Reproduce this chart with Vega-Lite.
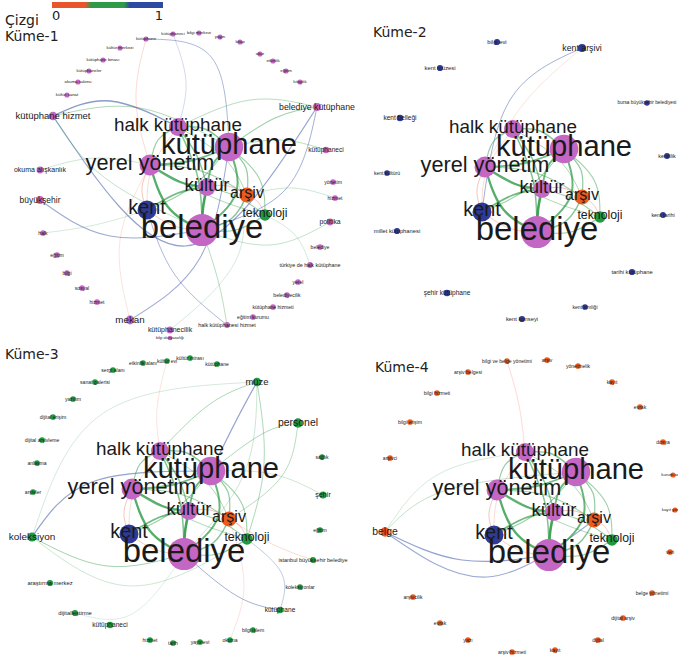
{
"$schema":"https://vega.github.io/schema/vega-lite/v6.json",
"padding":0,"spacing":0,"columns":2,"bounds":"flush",
"resolve":{"scale":{"size":"independent"}},
"config":{"view":{"stroke":null},
"legend":{"orient":"none","legendX":5,"legendY":2,"direction":"horizontal","gradientLength":111,"gradientThickness":6,"titleOrient":"left","titleBaseline":"line-top","titleLineHeight":32,"titleFont":"DejaVu Sans","titleFontSize":14,"titleFontWeight":"normal","titleColor":"#222","labelFont":"DejaVu Sans","labelFontSize":13,"labelColor":"#222","titlePadding":13,"gradientStrokeWidth":0,"labelOffset":6}},
"datasets":{
"coreN":[
{"label":"belediye","x":202,"y":230,"n":34,"c":"1"},
{"label":"kütüphane","x":229,"y":147,"n":30,"c":"1"},
{"label":"halk kütüphane","x":178,"y":127,"n":19,"c":"1"},
{"label":"yerel yönetim","x":150,"y":165,"n":22,"c":"1"},
{"label":"kültür","x":207,"y":187,"n":18.5,"c":"1"},
{"label":"arşiv","x":247,"y":195,"n":16,"c":"4"},
{"label":"kent","x":147,"y":210,"n":20,"c":"2"},
{"label":"teknoloji","x":265,"y":215,"n":12,"c":"3"}],
"coreE":[
{"id":"c1","i":0,"x":202,"y":230,"w":0.5,"s":3},{"id":"c1","i":1,"x":203,"y":208,"w":0.5,"s":3},{"id":"c1","i":2,"x":207,"y":187,"w":0.5,"s":3},
{"id":"c2","i":0,"x":202,"y":230,"w":0.5,"s":2.6},{"id":"c2","i":1,"x":168,"y":207,"w":0.5,"s":2.6},{"id":"c2","i":2,"x":150,"y":165,"w":0.5,"s":2.6},
{"id":"c3","i":0,"x":202,"y":230,"w":0.5,"s":2.2},{"id":"c3","i":1,"x":236,"y":193,"w":0.5,"s":2.2},{"id":"c3","i":2,"x":229,"y":147,"w":0.5,"s":2.2},
{"id":"c4","i":0,"x":150,"y":165,"w":0.5,"s":2},{"id":"c4","i":1,"x":190,"y":161,"w":0.5,"s":2},{"id":"c4","i":2,"x":229,"y":147,"w":0.5,"s":2},
{"id":"c5","i":0,"x":150,"y":165,"w":0.5,"s":2.4},{"id":"c5","i":1,"x":180,"y":182,"w":0.5,"s":2.4},{"id":"c5","i":2,"x":207,"y":187,"w":0.5,"s":2.4},
{"id":"c6","i":0,"x":229,"y":147,"w":0.5,"s":2},{"id":"c6","i":1,"x":213,"y":164,"w":0.5,"s":2},{"id":"c6","i":2,"x":207,"y":187,"w":0.5,"s":2},
{"id":"c7","i":0,"x":147,"y":210,"w":0.5,"s":2},{"id":"c7","i":1,"x":178,"y":193,"w":0.5,"s":2},{"id":"c7","i":2,"x":207,"y":187,"w":0.5,"s":2},
{"id":"c8","i":0,"x":178,"y":127,"w":0.5,"s":1.6},{"id":"c8","i":1,"x":198,"y":178,"w":0.5,"s":1.6},{"id":"c8","i":2,"x":202,"y":230,"w":0.5,"s":1.6},
{"id":"c9","i":0,"x":178,"y":127,"w":0.5,"s":1.5},{"id":"c9","i":1,"x":205,"y":129,"w":0.5,"s":1.5},{"id":"c9","i":2,"x":229,"y":147,"w":0.5,"s":1.5},
{"id":"c10","i":0,"x":178,"y":127,"w":0.5,"s":1.2},{"id":"c10","i":1,"x":158,"y":140,"w":0.5,"s":1.2},{"id":"c10","i":2,"x":150,"y":165,"w":0.5,"s":1.2},
{"id":"c11","i":0,"x":247,"y":195,"w":0.5,"s":1.5},{"id":"c11","i":1,"x":231,"y":219,"w":0.5,"s":1.5},{"id":"c11","i":2,"x":202,"y":230,"w":0.5,"s":1.5},
{"id":"c12","i":0,"x":265,"y":215,"w":0.5,"s":1.2},{"id":"c12","i":1,"x":236,"y":230,"w":0.5,"s":1.2},{"id":"c12","i":2,"x":202,"y":230,"w":0.5,"s":1.2},
{"id":"c13","i":0,"x":247,"y":195,"w":0.5,"s":1.2},{"id":"c13","i":1,"x":246,"y":168,"w":0.5,"s":1.2},{"id":"c13","i":2,"x":229,"y":147,"w":0.5,"s":1.2},
{"id":"c14","i":0,"x":147,"y":210,"w":0.2,"s":0.7},{"id":"c14","i":1,"x":142,"y":188,"w":0.2,"s":0.7},{"id":"c14","i":2,"x":150,"y":165,"w":0.2,"s":0.7},
{"id":"c15","i":0,"x":147,"y":210,"w":0.2,"s":0.6},{"id":"c15","i":1,"x":174,"y":226,"w":0.2,"s":0.6},{"id":"c15","i":2,"x":202,"y":230,"w":0.2,"s":0.6},
{"id":"c16","i":0,"x":265,"y":215,"w":0.5,"s":1},{"id":"c16","i":1,"x":259,"y":178,"w":0.5,"s":1},{"id":"c16","i":2,"x":229,"y":147,"w":0.5,"s":1},
{"id":"c17","i":0,"x":207,"y":187,"w":0.2,"s":0.8},{"id":"c17","i":1,"x":228,"y":186,"w":0.2,"s":0.8},{"id":"c17","i":2,"x":247,"y":195,"w":0.2,"s":0.8},
{"id":"c18","i":0,"x":150,"y":165,"w":0.5,"s":1},{"id":"c18","i":1,"x":201,"y":171,"w":0.5,"s":1},{"id":"c18","i":2,"x":247,"y":195,"w":0.5,"s":1},
{"id":"c19","i":0,"x":178,"y":127,"w":0.5,"s":1.5},{"id":"c19","i":1,"x":197,"y":156,"w":0.5,"s":1.5},{"id":"c19","i":2,"x":207,"y":187,"w":0.5,"s":1.5},
{"id":"c20","i":0,"x":147,"y":210,"w":0.5,"s":1},{"id":"c20","i":1,"x":193,"y":186,"w":0.5,"s":1},{"id":"c20","i":2,"x":229,"y":147,"w":0.5,"s":1},
{"id":"c21","i":0,"x":265,"y":215,"w":0.5,"s":1},{"id":"c21","i":1,"x":238,"y":197,"w":0.5,"s":1},{"id":"c21","i":2,"x":207,"y":187,"w":0.5,"s":1},
{"id":"c22","i":0,"x":150,"y":165,"w":0.5,"s":0.8},{"id":"c22","i":1,"x":212,"y":197,"w":0.5,"s":0.8},{"id":"c22","i":2,"x":265,"y":215,"w":0.5,"s":0.8},
{"id":"c23","i":0,"x":178,"y":127,"w":0.5,"s":0.8},{"id":"c23","i":1,"x":224,"y":158,"w":0.5,"s":0.8},{"id":"c23","i":2,"x":247,"y":195,"w":0.5,"s":0.8},
{"id":"c24","i":0,"x":147,"y":210,"w":0.2,"s":0.4},{"id":"c24","i":1,"x":152,"y":168,"w":0.2,"s":0.4},{"id":"c24","i":2,"x":178,"y":127,"w":0.2,"s":0.4},
{"id":"c25","i":0,"x":247,"y":195,"w":0.2,"s":0.6},{"id":"c25","i":1,"x":258,"y":202,"w":0.2,"s":0.6},{"id":"c25","i":2,"x":265,"y":215,"w":0.2,"s":0.6}],
"n1":[
{"label":"kütüphane","x":146,"y":39,"n":5.5,"c":"1"},
{"label":"kütüphaneci","x":173,"y":34,"n":5.5,"c":"1"},
{"label":"bilgi merkezi","x":199,"y":33,"n":5.5,"c":"1"},
{"label":"yayın","x":220,"y":37,"n":5.5,"c":"1"},
{"label":"kitap","x":240,"y":42,"n":5.5,"c":"1"},
{"label":"okur","x":260,"y":54,"n":5.5,"c":"1"},
{"label":"etkinlik","x":273,"y":61,"n":5.5,"c":"1"},
{"label":"eğitim","x":286,"y":71,"n":5.5,"c":"1"},
{"label":"kitaplık","x":300,"y":82,"n":5.5,"c":"1"},
{"label":"kültür merkezi","x":120,"y":48,"n":5.5,"c":"1"},
{"label":"kütüphane binası","x":103,"y":60,"n":5.5,"c":"1"},
{"label":"kütüphaneler","x":89,"y":71,"n":5.5,"c":"1"},
{"label":"okuma salonu","x":78,"y":82,"n":5.5,"c":"1"},
{"label":"kültür sanat","x":67,"y":95,"n":5.5,"c":"1"},
{"label":"kütüphane hizmet","x":53,"y":116,"n":9,"c":"1"},
{"label":"belediye kütüphane","x":317,"y":107,"n":8.5,"c":"1"},
{"label":"kütüphaneci","x":326,"y":150,"n":7,"c":"1"},
{"label":"okuma alışkanlık","x":40,"y":170,"n":7.3,"c":"1"},
{"label":"büyükşehir","x":40,"y":200,"n":8.3,"c":"1"},
{"label":"halk","x":43,"y":233,"n":6,"c":"1"},
{"label":"eğitim","x":57,"y":255,"n":6,"c":"1"},
{"label":"bilgi","x":67,"y":273,"n":6,"c":"1"},
{"label":"sosyal","x":82,"y":288,"n":6,"c":"1"},
{"label":"hizmet","x":97,"y":302,"n":6,"c":"1"},
{"label":"mekan","x":130,"y":320,"n":9.3,"c":"1"},
{"label":"kütüphanecilik","x":170,"y":330,"n":7.3,"c":"1"},
{"label":"halk kütüphanesi hizmet","x":227,"y":325,"n":6.2,"c":"1"},
{"label":"bilgi okuryazarlığı","x":170,"y":338,"n":5,"c":"1"},
{"label":"yönetim","x":333,"y":182,"n":6,"c":"1"},
{"label":"hizmet","x":335,"y":198,"n":6,"c":"1"},
{"label":"politika","x":330,"y":222,"n":7.2,"c":"1"},
{"label":"belediye","x":320,"y":247,"n":6,"c":"1"},
{"label":"türkiye de halk kütüphane","x":310,"y":265,"n":6.2,"c":"1"},
{"label":"yerel","x":298,"y":282,"n":6,"c":"1"},
{"label":"belediyecilik","x":287,"y":295,"n":6,"c":"1"},
{"label":"kütüphane hizmeti","x":273,"y":307,"n":6,"c":"1"},
{"label":"eğitim kurumu","x":253,"y":317,"n":6,"c":"1"}],
"e1":[
{"id":"a","i":0,"x":53,"y":116,"w":0.85,"s":1.4},{"id":"a","i":1,"x":110,"y":101,"w":0.85,"s":1.4},{"id":"a","i":2,"x":178,"y":127,"w":0.85,"s":1.4},
{"id":"b","i":0,"x":53,"y":116,"w":0.85,"s":1.2},{"id":"b","i":1,"x":185,"y":246,"w":0.85,"s":1.2},{"id":"b","i":2,"x":317,"y":107,"w":0.85,"s":1.2},
{"id":"c","i":0,"x":40,"y":200,"w":0.85,"s":1},{"id":"c","i":1,"x":110,"y":236,"w":0.85,"s":1},{"id":"c","i":2,"x":202,"y":230,"w":0.85,"s":1},
{"id":"d","i":0,"x":229,"y":147,"w":0.85,"s":1},{"id":"d","i":1,"x":200,"y":258,"w":0.85,"s":1},{"id":"d","i":2,"x":130,"y":320,"w":0.85,"s":1},
{"id":"e","i":0,"x":146,"y":39,"w":0.85,"s":0.8},{"id":"e","i":1,"x":212,"y":58,"w":0.85,"s":0.8},{"id":"e","i":2,"x":229,"y":147,"w":0.85,"s":0.8},
{"id":"f","i":0,"x":173,"y":34,"w":0.85,"s":0.4},{"id":"f","i":1,"x":186,"y":82,"w":0.85,"s":0.4},{"id":"f","i":2,"x":178,"y":127,"w":0.85,"s":0.4},
{"id":"g","i":0,"x":146,"y":39,"w":0.2,"s":0.4},{"id":"g","i":1,"x":136,"y":100,"w":0.2,"s":0.4},{"id":"g","i":2,"x":150,"y":165,"w":0.2,"s":0.4},
{"id":"h","i":0,"x":53,"y":116,"w":0.5,"s":0.8},{"id":"h","i":1,"x":140,"y":108,"w":0.5,"s":0.8},{"id":"h","i":2,"x":229,"y":147,"w":0.5,"s":0.8},
{"id":"i","i":0,"x":53,"y":116,"w":0.5,"s":0.6},{"id":"i","i":1,"x":105,"y":178,"w":0.5,"s":0.6},{"id":"i","i":2,"x":202,"y":230,"w":0.5,"s":0.6},
{"id":"j","i":0,"x":40,"y":170,"w":0.5,"s":0.5},{"id":"j","i":1,"x":95,"y":158,"w":0.5,"s":0.5},{"id":"j","i":2,"x":150,"y":165,"w":0.5,"s":0.5},
{"id":"k","i":0,"x":317,"y":107,"w":0.5,"s":1},{"id":"k","i":1,"x":275,"y":118,"w":0.5,"s":1},{"id":"k","i":2,"x":229,"y":147,"w":0.5,"s":1},
{"id":"l","i":0,"x":317,"y":107,"w":0.5,"s":0.7},{"id":"l","i":1,"x":250,"y":100,"w":0.5,"s":0.7},{"id":"l","i":2,"x":178,"y":127,"w":0.5,"s":0.7},
{"id":"m","i":0,"x":317,"y":107,"w":0.85,"s":0.9},{"id":"m","i":1,"x":285,"y":190,"w":0.85,"s":0.9},{"id":"m","i":2,"x":202,"y":230,"w":0.85,"s":0.9},
{"id":"n","i":0,"x":326,"y":150,"w":0.5,"s":0.7},{"id":"n","i":1,"x":280,"y":140,"w":0.5,"s":0.7},{"id":"n","i":2,"x":229,"y":147,"w":0.5,"s":0.7},
{"id":"o","i":0,"x":330,"y":222,"w":0.5,"s":0.6},{"id":"o","i":1,"x":270,"y":245,"w":0.5,"s":0.6},{"id":"o","i":2,"x":202,"y":230,"w":0.5,"s":0.6},
{"id":"p","i":0,"x":335,"y":198,"w":0.5,"s":0.5},{"id":"p","i":1,"x":292,"y":188,"w":0.5,"s":0.5},{"id":"p","i":2,"x":247,"y":195,"w":0.5,"s":0.5},
{"id":"q","i":0,"x":227,"y":325,"w":0.85,"s":0.8},{"id":"q","i":1,"x":175,"y":275,"w":0.85,"s":0.8},{"id":"q","i":2,"x":147,"y":210,"w":0.85,"s":0.8},
{"id":"r","i":0,"x":227,"y":325,"w":0.5,"s":0.7},{"id":"r","i":1,"x":218,"y":280,"w":0.5,"s":0.7},{"id":"r","i":2,"x":202,"y":230,"w":0.5,"s":0.7},
{"id":"s","i":0,"x":170,"y":330,"w":0.5,"s":0.4},{"id":"s","i":1,"x":240,"y":250,"w":0.5,"s":0.4},{"id":"s","i":2,"x":229,"y":147,"w":0.5,"s":0.4},
{"id":"t","i":0,"x":130,"y":320,"w":0.2,"s":0.3},{"id":"t","i":1,"x":120,"y":240,"w":0.2,"s":0.3},{"id":"t","i":2,"x":150,"y":165,"w":0.2,"s":0.3},
{"id":"u","i":0,"x":43,"y":233,"w":0.5,"s":0.4},{"id":"u","i":1,"x":95,"y":225,"w":0.5,"s":0.4},{"id":"u","i":2,"x":147,"y":210,"w":0.5,"s":0.4},
{"id":"v","i":0,"x":310,"y":265,"w":0.5,"s":0.4},{"id":"v","i":1,"x":295,"y":235,"w":0.5,"s":0.4},{"id":"v","i":2,"x":265,"y":215,"w":0.5,"s":0.4}],
"n2":[
{"label":"bilgi evi","x":162,"y":40,"n":6.5,"c":"2"},
{"label":"kent arşivi","x":247,"y":46,"n":8.5,"c":"2"},
{"label":"kent müzesi","x":105,"y":66,"n":6.5,"c":"2"},
{"label":"bursa büyükşehir belediyesi","x":312,"y":101,"n":5.8,"c":"2"},
{"label":"kent belleği","x":65,"y":116,"n":7,"c":"2"},
{"label":"kentlilik","x":332,"y":154,"n":6.2,"c":"2"},
{"label":"kent kültürü","x":52,"y":171,"n":6,"c":"2"},
{"label":"kent tarihi","x":328,"y":213,"n":6.2,"c":"2"},
{"label":"millet kütüphanesi","x":62,"y":229,"n":6.5,"c":"2"},
{"label":"tarihi kütüphane","x":297,"y":270,"n":6.5,"c":"2"},
{"label":"şehir kütüphane","x":112,"y":291,"n":7,"c":"2"},
{"label":"kent kimliği","x":250,"y":305,"n":6,"c":"2"},
{"label":"kent konseyi","x":187,"y":317,"n":6.5,"c":"2"}],
"e2":[
{"id":"a","i":0,"x":247,"y":46,"w":0.85,"s":0.9},{"id":"a","i":1,"x":175,"y":98,"w":0.85,"s":0.9},{"id":"a","i":2,"x":147,"y":210,"w":0.85,"s":0.9},
{"id":"b","i":0,"x":247,"y":46,"w":0.2,"s":0.3},{"id":"b","i":1,"x":190,"y":100,"w":0.2,"s":0.3},{"id":"b","i":2,"x":150,"y":165,"w":0.2,"s":0.3}],
"n3":[
{"label":"müze","x":275,"y":58,"n":9,"c":"3"},
{"label":"personel","x":316,"y":99,"n":10,"c":"3"},
{"label":"sağlık","x":340,"y":133,"n":6,"c":"3"},
{"label":"şehir","x":341,"y":171,"n":7.5,"c":"3"},
{"label":"eğitim","x":338,"y":206,"n":6,"c":"3"},
{"label":"istanbul büyükşehir belediye","x":331,"y":236,"n":6.3,"c":"3"},
{"label":"koleksiyonlar","x":318,"y":263,"n":6,"c":"3"},
{"label":"kütüphane","x":298,"y":286,"n":7,"c":"3"},
{"label":"bilgi işlem","x":271,"y":306,"n":6,"c":"3"},
{"label":"okuma","x":248,"y":316,"n":6,"c":"3"},
{"label":"yayınevi","x":218,"y":318,"n":6,"c":"3"},
{"label":"tarih","x":191,"y":319,"n":6,"c":"3"},
{"label":"hizmet","x":168,"y":316,"n":6,"c":"3"},
{"label":"kütüphaneci","x":128,"y":301,"n":7,"c":"3"},
{"label":"dijitalleştirme","x":93,"y":289,"n":6.5,"c":"3"},
{"label":"araştırma merkez","x":68,"y":259,"n":6.5,"c":"3"},
{"label":"koleksiyon","x":50,"y":213,"n":9.5,"c":"3"},
{"label":"arşivler","x":51,"y":168,"n":6,"c":"3"},
{"label":"anlaşma","x":55,"y":139,"n":6,"c":"3"},
{"label":"dijital arşivleme","x":60,"y":116,"n":6,"c":"3"},
{"label":"dijital erişim","x":71,"y":93,"n":6,"c":"3"},
{"label":"yazılım","x":91,"y":75,"n":6,"c":"3"},
{"label":"sanat galerisi","x":113,"y":58,"n":6,"c":"3"},
{"label":"sergi alanı","x":131,"y":46,"n":6,"c":"3"},
{"label":"etkinlik alanı","x":161,"y":39,"n":6,"c":"3"},
{"label":"kültür evi","x":185,"y":37,"n":6,"c":"3"},
{"label":"kültür mirası","x":208,"y":34,"n":6,"c":"3"},
{"label":"kütüphane","x":235,"y":40,"n":6,"c":"3"}],
"e3":[
{"id":"a","i":0,"x":275,"y":58,"w":0.85,"s":1.2},{"id":"a","i":1,"x":255,"y":95,"w":0.85,"s":1.2},{"id":"a","i":2,"x":229,"y":147,"w":0.85,"s":1.2},
{"id":"b","i":0,"x":275,"y":58,"w":0.5,"s":0.8},{"id":"b","i":1,"x":228,"y":80,"w":0.5,"s":0.8},{"id":"b","i":2,"x":178,"y":127,"w":0.5,"s":0.8},
{"id":"c","i":0,"x":275,"y":58,"w":0.5,"s":0.8},{"id":"c","i":1,"x":282,"y":140,"w":0.5,"s":0.8},{"id":"c","i":2,"x":265,"y":215,"w":0.5,"s":0.8},
{"id":"d","i":0,"x":275,"y":58,"w":0.5,"s":0.5},{"id":"d","i":1,"x":262,"y":150,"w":0.5,"s":0.5},{"id":"d","i":2,"x":202,"y":230,"w":0.5,"s":0.5},
{"id":"e","i":0,"x":316,"y":99,"w":0.5,"s":0.8},{"id":"e","i":1,"x":280,"y":110,"w":0.5,"s":0.8},{"id":"e","i":2,"x":229,"y":147,"w":0.5,"s":0.8},
{"id":"f","i":0,"x":316,"y":99,"w":0.5,"s":0.7},{"id":"f","i":1,"x":300,"y":152,"w":0.5,"s":0.7},{"id":"f","i":2,"x":247,"y":195,"w":0.5,"s":0.7},
{"id":"g","i":0,"x":50,"y":213,"w":0.85,"s":1.2},{"id":"g","i":1,"x":110,"y":158,"w":0.85,"s":1.2},{"id":"g","i":2,"x":229,"y":147,"w":0.85,"s":1.2},
{"id":"h","i":0,"x":50,"y":213,"w":0.5,"s":0.9},{"id":"h","i":1,"x":125,"y":242,"w":0.5,"s":0.9},{"id":"h","i":2,"x":202,"y":230,"w":0.5,"s":0.9},
{"id":"i","i":0,"x":50,"y":213,"w":0.5,"s":0.4},{"id":"i","i":1,"x":120,"y":90,"w":0.5,"s":0.4},{"id":"i","i":2,"x":275,"y":58,"w":0.5,"s":0.4},
{"id":"j","i":0,"x":50,"y":213,"w":0.5,"s":0.5},{"id":"j","i":1,"x":150,"y":262,"w":0.5,"s":0.5},{"id":"j","i":2,"x":265,"y":215,"w":0.5,"s":0.5},
{"id":"k","i":0,"x":298,"y":286,"w":0.85,"s":0.9},{"id":"k","i":1,"x":255,"y":272,"w":0.85,"s":0.9},{"id":"k","i":2,"x":202,"y":230,"w":0.85,"s":0.9},
{"id":"l","i":0,"x":265,"y":215,"w":0.85,"s":0.6},{"id":"l","i":1,"x":300,"y":250,"w":0.85,"s":0.6},{"id":"l","i":2,"x":298,"y":286,"w":0.85,"s":0.6},
{"id":"m","i":0,"x":341,"y":171,"w":0.5,"s":0.5},{"id":"m","i":1,"x":290,"y":150,"w":0.5,"s":0.5},{"id":"m","i":2,"x":229,"y":147,"w":0.5,"s":0.5},
{"id":"n","i":0,"x":331,"y":236,"w":0.2,"s":0.4},{"id":"n","i":1,"x":290,"y":220,"w":0.2,"s":0.4},{"id":"n","i":2,"x":247,"y":195,"w":0.2,"s":0.4},
{"id":"o","i":0,"x":185,"y":37,"w":0.2,"s":0.3},{"id":"o","i":1,"x":175,"y":85,"w":0.2,"s":0.3},{"id":"o","i":2,"x":178,"y":127,"w":0.2,"s":0.3},
{"id":"p","i":0,"x":93,"y":289,"w":0.5,"s":0.3},{"id":"p","i":1,"x":150,"y":290,"w":0.5,"s":0.3},{"id":"p","i":2,"x":202,"y":230,"w":0.5,"s":0.3},
{"id":"q","i":0,"x":248,"y":316,"w":0.2,"s":0.3},{"id":"q","i":1,"x":262,"y":260,"w":0.2,"s":0.3},{"id":"q","i":2,"x":247,"y":195,"w":0.2,"s":0.3}],
"n4":[
{"label":"bilgi ve belge yönetimi","x":160,"y":36,"n":6,"c":"4"},
{"label":"arşiv","x":200,"y":35,"n":6,"c":"4"},
{"label":"yönetmelik","x":231,"y":41,"n":6,"c":"4"},
{"label":"arşiv belgesi","x":121,"y":47,"n":6,"c":"4"},
{"label":"bilgi hizmeti","x":90,"y":68,"n":6,"c":"4"},
{"label":"kayıt","x":265,"y":57,"n":6,"c":"4"},
{"label":"evrak","x":293,"y":82,"n":6,"c":"4"},
{"label":"bilgi erişim","x":63,"y":97,"n":6,"c":"4"},
{"label":"dosya","x":316,"y":117,"n":6,"c":"4"},
{"label":"arşivci","x":43,"y":133,"n":6,"c":"4"},
{"label":"kurum arşivi","x":326,"y":150,"n":5.5,"c":"4"},
{"label":"kayıt yönetimi","x":328,"y":185,"n":5.5,"c":"4"},
{"label":"belge","x":38,"y":207,"n":10,"c":"4"},
{"label":"veri","x":323,"y":227,"n":6,"c":"4"},
{"label":"arşivcilik","x":66,"y":272,"n":6,"c":"4"},
{"label":"belge yönetimi","x":305,"y":268,"n":6,"c":"4"},
{"label":"evrak","x":93,"y":298,"n":6,"c":"4"},
{"label":"dijital arşiv","x":276,"y":293,"n":6,"c":"4"},
{"label":"yazı","x":121,"y":315,"n":6,"c":"4"},
{"label":"dijital","x":251,"y":315,"n":6,"c":"4"},
{"label":"arşiv hizmeti","x":165,"y":327,"n":6,"c":"4"},
{"label":"kayıt","x":208,"y":325,"n":6,"c":"4"}],
"e4":[
{"id":"a","i":0,"x":38,"y":207,"w":0.85,"s":1.2},{"id":"a","i":1,"x":115,"y":235,"w":0.85,"s":1.2},{"id":"a","i":2,"x":202,"y":230,"w":0.85,"s":1.2},
{"id":"b","i":0,"x":38,"y":207,"w":0.85,"s":1},{"id":"b","i":1,"x":140,"y":252,"w":0.85,"s":1},{"id":"b","i":2,"x":247,"y":195,"w":0.85,"s":1},
{"id":"c","i":0,"x":38,"y":207,"w":0.5,"s":0.6},{"id":"c","i":1,"x":100,"y":165,"w":0.5,"s":0.6},{"id":"c","i":2,"x":229,"y":147,"w":0.5,"s":0.6},
{"id":"d","i":0,"x":38,"y":207,"w":0.5,"s":0.4},{"id":"d","i":1,"x":90,"y":150,"w":0.5,"s":0.4},{"id":"d","i":2,"x":178,"y":127,"w":0.5,"s":0.4},
{"id":"e","i":0,"x":160,"y":36,"w":0.2,"s":0.4},{"id":"e","i":1,"x":172,"y":80,"w":0.2,"s":0.4},{"id":"e","i":2,"x":178,"y":127,"w":0.2,"s":0.4}]
},
"concat":[
{"width":339,"height":329,
"encoding":{"x":{"field":"x","type":"quantitative","axis":null,"scale":{"domain":[0,339],"nice":false,"zero":false}},"y":{"field":"y","type":"quantitative","axis":null,"scale":{"domain":[0,329],"nice":false,"zero":false,"reverse":true}}},
"resolve":{"scale":{"size":"independent"}},
"layer":[
{"data":{"name":"e1"},"mark":{"type":"line","interpolate":"natural","strokeCap":"round"},"encoding":{"detail":{"field":"id"},"order":{"field":"i","type":"quantitative"},"stroke":{"field":"w","type":"quantitative","title":"Çizgi","scale":{"domain":[0,0.33,0.34,0.66,0.67,1],"range":["#e8552d","#e8552d","#2f9a48","#2f9a48","#2d4aa0","#2d4aa0"]},"legend":{"values":[0,1],"format":"d"}},"strokeWidth":{"field":"s","type":"quantitative","scale":{"domain":[0,3],"range":[0.3,2.6]},"legend":null},"opacity":{"field":"s","type":"quantitative","scale":{"domain":[0,3],"range":[0.25,0.9]},"legend":null}}},
{"data":{"name":"coreE"},"mark":{"type":"line","interpolate":"natural","strokeCap":"round"},"encoding":{"detail":{"field":"id"},"order":{"field":"i","type":"quantitative"},"stroke":{"field":"w","type":"quantitative","title":"Çizgi","scale":{"domain":[0,0.33,0.34,0.66,0.67,1],"range":["#e8552d","#e8552d","#2f9a48","#2f9a48","#2d4aa0","#2d4aa0"]},"legend":{"values":[0,1],"format":"d"}},"strokeWidth":{"field":"s","type":"quantitative","scale":{"domain":[0,3],"range":[0.3,2.6]},"legend":null},"opacity":{"field":"s","type":"quantitative","scale":{"domain":[0,3],"range":[0.25,0.9]},"legend":null}}},
{"data":{"name":"n1"},"mark":{"type":"point","filled":true,"shape":"circle","opacity":1,"strokeWidth":0},"encoding":{"fill":{"field":"c","type":"nominal","scale":{"domain":["1","2","3","4"],"range":["#c466c4","#2e3a96","#1f9a40","#ec5b1e"]},"legend":null},"size":{"field":"n","type":"quantitative","scale":{"type":"pow","exponent":2,"domain":[0,35],"range":[0,1100]},"legend":null}}},
{"data":{"name":"coreN"},"mark":{"type":"point","filled":true,"shape":"circle","opacity":1,"strokeWidth":0},"encoding":{"fill":{"field":"c","type":"nominal","scale":{"domain":["1","2","3","4"],"range":["#c466c4","#2e3a96","#1f9a40","#ec5b1e"]},"legend":null},"size":{"field":"n","type":"quantitative","scale":{"type":"pow","exponent":2,"domain":[0,35],"range":[0,1100]},"legend":null}}},
{"data":{"name":"n1"},"mark":{"type":"text","font":"Liberation Sans","fill":"#1a1a1a","align":"center","baseline":"middle"},"encoding":{"text":{"field":"label"},"size":{"field":"n","type":"quantitative","scale":{"domain":[5,9,34],"range":[3.6,9.5,32.9],"zero":false},"legend":null}}},
{"data":{"name":"coreN"},"mark":{"type":"text","font":"Liberation Sans","fill":"#1a1a1a","align":"center","baseline":"middle","dy":-2},"encoding":{"text":{"field":"label"},"size":{"field":"n","type":"quantitative","scale":{"domain":[5,9,34],"range":[3.6,9.5,32.9],"zero":false},"legend":null}}},
{"data":{"values":[{"label":"Küme-1","x":5,"y":37}]},"mark":{"type":"text","font":"DejaVu Sans","fontSize":14,"fill":"#222","align":"left","baseline":"middle"},"encoding":{"text":{"field":"label"}}}
]},
{"width":339,"height":329,
"encoding":{"x":{"field":"x","type":"quantitative","axis":null,"scale":{"domain":[4,343],"nice":false,"zero":false}},"y":{"field":"y","type":"quantitative","axis":null,"scale":{"domain":[-2,327],"nice":false,"zero":false,"reverse":true}}},
"resolve":{"scale":{"size":"independent"}},
"layer":[
{"data":{"name":"e2"},"mark":{"type":"line","interpolate":"natural","strokeCap":"round"},"encoding":{"detail":{"field":"id"},"order":{"field":"i","type":"quantitative"},"stroke":{"field":"w","type":"quantitative","title":"Çizgi","scale":{"domain":[0,0.33,0.34,0.66,0.67,1],"range":["#e8552d","#e8552d","#2f9a48","#2f9a48","#2d4aa0","#2d4aa0"]},"legend":{"values":[0,1],"format":"d"}},"strokeWidth":{"field":"s","type":"quantitative","scale":{"domain":[0,3],"range":[0.3,2.6]},"legend":null},"opacity":{"field":"s","type":"quantitative","scale":{"domain":[0,3],"range":[0.25,0.9]},"legend":null}}},
{"data":{"name":"coreE"},"mark":{"type":"line","interpolate":"natural","strokeCap":"round"},"encoding":{"detail":{"field":"id"},"order":{"field":"i","type":"quantitative"},"stroke":{"field":"w","type":"quantitative","title":"Çizgi","scale":{"domain":[0,0.33,0.34,0.66,0.67,1],"range":["#e8552d","#e8552d","#2f9a48","#2f9a48","#2d4aa0","#2d4aa0"]},"legend":{"values":[0,1],"format":"d"}},"strokeWidth":{"field":"s","type":"quantitative","scale":{"domain":[0,3],"range":[0.3,2.6]},"legend":null},"opacity":{"field":"s","type":"quantitative","scale":{"domain":[0,3],"range":[0.25,0.9]},"legend":null}}},
{"data":{"name":"n2"},"mark":{"type":"point","filled":true,"shape":"circle","opacity":1,"strokeWidth":0},"encoding":{"fill":{"field":"c","type":"nominal","scale":{"domain":["1","2","3","4"],"range":["#c466c4","#2e3a96","#1f9a40","#ec5b1e"]},"legend":null},"size":{"field":"n","type":"quantitative","scale":{"type":"pow","exponent":2,"domain":[0,35],"range":[0,1100]},"legend":null}}},
{"data":{"name":"coreN"},"mark":{"type":"point","filled":true,"shape":"circle","opacity":1,"strokeWidth":0},"encoding":{"fill":{"field":"c","type":"nominal","scale":{"domain":["1","2","3","4"],"range":["#c466c4","#2e3a96","#1f9a40","#ec5b1e"]},"legend":null},"size":{"field":"n","type":"quantitative","scale":{"type":"pow","exponent":2,"domain":[0,35],"range":[0,1100]},"legend":null}}},
{"data":{"name":"n2"},"mark":{"type":"text","font":"Liberation Sans","fill":"#1a1a1a","align":"center","baseline":"middle"},"encoding":{"text":{"field":"label"},"size":{"field":"n","type":"quantitative","scale":{"domain":[5,9,34],"range":[3.6,9.5,32.9],"zero":false},"legend":null}}},
{"data":{"name":"coreN"},"mark":{"type":"text","font":"Liberation Sans","fill":"#1a1a1a","align":"center","baseline":"middle","dy":-2},"encoding":{"text":{"field":"label"},"size":{"field":"n","type":"quantitative","scale":{"domain":[5,9,34],"range":[3.6,9.5,32.9],"zero":false},"legend":null}}},
{"data":{"values":[{"label":"Küme-2","x":38,"y":31}]},"mark":{"type":"text","font":"DejaVu Sans","fontSize":14,"fill":"#222","align":"left","baseline":"middle"},"encoding":{"text":{"field":"label"}}}
]},
{"width":339,"height":329,
"encoding":{"x":{"field":"x","type":"quantitative","axis":null,"scale":{"domain":[18,357],"nice":false,"zero":false}},"y":{"field":"y","type":"quantitative","axis":null,"scale":{"domain":[5,334],"nice":false,"zero":false,"reverse":true}}},
"resolve":{"scale":{"size":"independent"}},
"layer":[
{"data":{"name":"e3"},"mark":{"type":"line","interpolate":"natural","strokeCap":"round"},"encoding":{"detail":{"field":"id"},"order":{"field":"i","type":"quantitative"},"stroke":{"field":"w","type":"quantitative","title":"Çizgi","scale":{"domain":[0,0.33,0.34,0.66,0.67,1],"range":["#e8552d","#e8552d","#2f9a48","#2f9a48","#2d4aa0","#2d4aa0"]},"legend":{"values":[0,1],"format":"d"}},"strokeWidth":{"field":"s","type":"quantitative","scale":{"domain":[0,3],"range":[0.3,2.6]},"legend":null},"opacity":{"field":"s","type":"quantitative","scale":{"domain":[0,3],"range":[0.25,0.9]},"legend":null}}},
{"data":{"name":"coreE"},"mark":{"type":"line","interpolate":"natural","strokeCap":"round"},"encoding":{"detail":{"field":"id"},"order":{"field":"i","type":"quantitative"},"stroke":{"field":"w","type":"quantitative","title":"Çizgi","scale":{"domain":[0,0.33,0.34,0.66,0.67,1],"range":["#e8552d","#e8552d","#2f9a48","#2f9a48","#2d4aa0","#2d4aa0"]},"legend":{"values":[0,1],"format":"d"}},"strokeWidth":{"field":"s","type":"quantitative","scale":{"domain":[0,3],"range":[0.3,2.6]},"legend":null},"opacity":{"field":"s","type":"quantitative","scale":{"domain":[0,3],"range":[0.25,0.9]},"legend":null}}},
{"data":{"name":"n3"},"mark":{"type":"point","filled":true,"shape":"circle","opacity":1,"strokeWidth":0},"encoding":{"fill":{"field":"c","type":"nominal","scale":{"domain":["1","2","3","4"],"range":["#c466c4","#2e3a96","#1f9a40","#ec5b1e"]},"legend":null},"size":{"field":"n","type":"quantitative","scale":{"type":"pow","exponent":2,"domain":[0,35],"range":[0,1100]},"legend":null}}},
{"data":{"name":"coreN"},"mark":{"type":"point","filled":true,"shape":"circle","opacity":1,"strokeWidth":0},"encoding":{"fill":{"field":"c","type":"nominal","scale":{"domain":["1","2","3","4"],"range":["#c466c4","#2e3a96","#1f9a40","#ec5b1e"]},"legend":null},"size":{"field":"n","type":"quantitative","scale":{"type":"pow","exponent":2,"domain":[0,35],"range":[0,1100]},"legend":null}}},
{"data":{"name":"n3"},"mark":{"type":"text","font":"Liberation Sans","fill":"#1a1a1a","align":"center","baseline":"middle"},"encoding":{"text":{"field":"label"},"size":{"field":"n","type":"quantitative","scale":{"domain":[5,9,34],"range":[3.6,9.5,32.9],"zero":false},"legend":null}}},
{"data":{"name":"coreN"},"mark":{"type":"text","font":"Liberation Sans","fill":"#1a1a1a","align":"center","baseline":"middle","dy":-2},"encoding":{"text":{"field":"label"},"size":{"field":"n","type":"quantitative","scale":{"domain":[5,9,34],"range":[3.6,9.5,32.9],"zero":false},"legend":null}}},
{"data":{"values":[{"label":"Küme-3","x":23,"y":31}]},"mark":{"type":"text","font":"DejaVu Sans","fontSize":14,"fill":"#222","align":"left","baseline":"middle"},"encoding":{"text":{"field":"label"}}}
]},
{"width":339,"height":329,
"encoding":{"x":{"field":"x","type":"quantitative","axis":null,"scale":{"domain":[-8,331],"nice":false,"zero":false}},"y":{"field":"y","type":"quantitative","axis":null,"scale":{"domain":[4,333],"nice":false,"zero":false,"reverse":true}}},
"resolve":{"scale":{"size":"independent"}},
"layer":[
{"data":{"name":"e4"},"mark":{"type":"line","interpolate":"natural","strokeCap":"round"},"encoding":{"detail":{"field":"id"},"order":{"field":"i","type":"quantitative"},"stroke":{"field":"w","type":"quantitative","title":"Çizgi","scale":{"domain":[0,0.33,0.34,0.66,0.67,1],"range":["#e8552d","#e8552d","#2f9a48","#2f9a48","#2d4aa0","#2d4aa0"]},"legend":{"values":[0,1],"format":"d"}},"strokeWidth":{"field":"s","type":"quantitative","scale":{"domain":[0,3],"range":[0.3,2.6]},"legend":null},"opacity":{"field":"s","type":"quantitative","scale":{"domain":[0,3],"range":[0.25,0.9]},"legend":null}}},
{"data":{"name":"coreE"},"mark":{"type":"line","interpolate":"natural","strokeCap":"round"},"encoding":{"detail":{"field":"id"},"order":{"field":"i","type":"quantitative"},"stroke":{"field":"w","type":"quantitative","title":"Çizgi","scale":{"domain":[0,0.33,0.34,0.66,0.67,1],"range":["#e8552d","#e8552d","#2f9a48","#2f9a48","#2d4aa0","#2d4aa0"]},"legend":{"values":[0,1],"format":"d"}},"strokeWidth":{"field":"s","type":"quantitative","scale":{"domain":[0,3],"range":[0.3,2.6]},"legend":null},"opacity":{"field":"s","type":"quantitative","scale":{"domain":[0,3],"range":[0.25,0.9]},"legend":null}}},
{"data":{"name":"n4"},"mark":{"type":"point","filled":true,"shape":"circle","opacity":1,"strokeWidth":0},"encoding":{"fill":{"field":"c","type":"nominal","scale":{"domain":["1","2","3","4"],"range":["#c466c4","#2e3a96","#1f9a40","#ec5b1e"]},"legend":null},"size":{"field":"n","type":"quantitative","scale":{"type":"pow","exponent":2,"domain":[0,35],"range":[0,1100]},"legend":null}}},
{"data":{"name":"coreN"},"mark":{"type":"point","filled":true,"shape":"circle","opacity":1,"strokeWidth":0},"encoding":{"fill":{"field":"c","type":"nominal","scale":{"domain":["1","2","3","4"],"range":["#c466c4","#2e3a96","#1f9a40","#ec5b1e"]},"legend":null},"size":{"field":"n","type":"quantitative","scale":{"type":"pow","exponent":2,"domain":[0,35],"range":[0,1100]},"legend":null}}},
{"data":{"name":"n4"},"mark":{"type":"text","font":"Liberation Sans","fill":"#1a1a1a","align":"center","baseline":"middle"},"encoding":{"text":{"field":"label"},"size":{"field":"n","type":"quantitative","scale":{"domain":[5,9,34],"range":[3.6,9.5,32.9],"zero":false},"legend":null}}},
{"data":{"name":"coreN"},"mark":{"type":"text","font":"Liberation Sans","fill":"#1a1a1a","align":"center","baseline":"middle","dy":-2},"encoding":{"text":{"field":"label"},"size":{"field":"n","type":"quantitative","scale":{"domain":[5,9,34],"range":[3.6,9.5,32.9],"zero":false},"legend":null}}},
{"data":{"values":[{"label":"Küme-4","x":28,"y":43}]},"mark":{"type":"text","font":"DejaVu Sans","fontSize":14,"fill":"#222","align":"left","baseline":"middle"},"encoding":{"text":{"field":"label"}}}
]}
]
}
